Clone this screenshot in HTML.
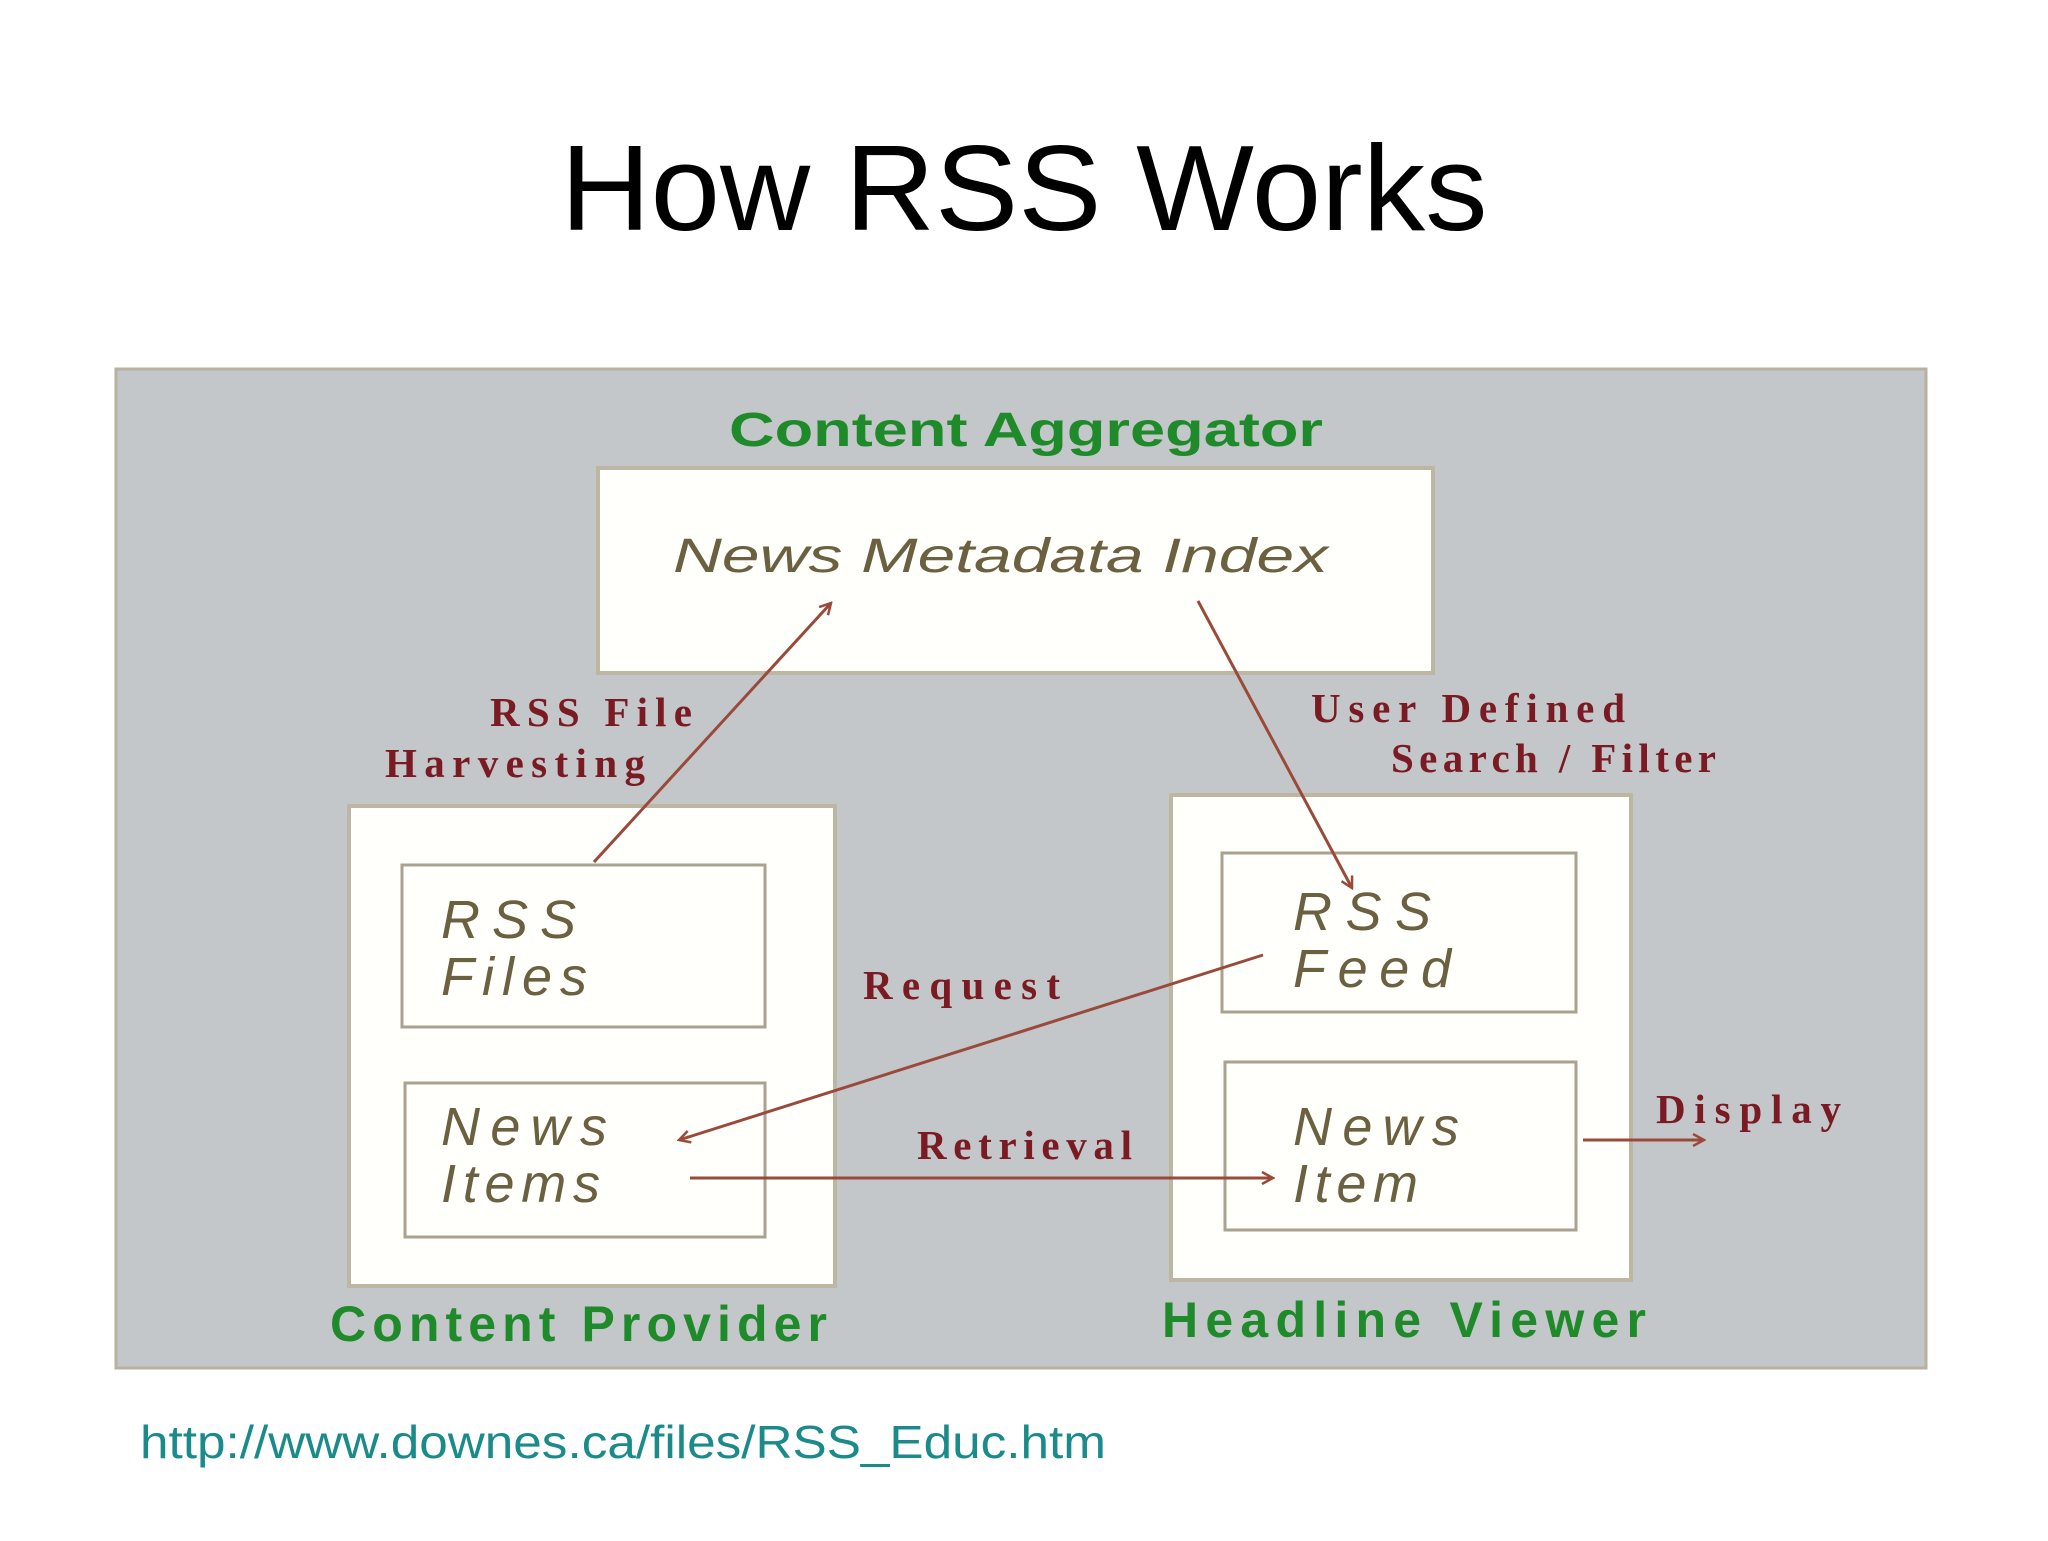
<!DOCTYPE html>
<html><head><meta charset="utf-8"><style>
html,body{margin:0;padding:0;background:#fff;}
body{width:2048px;height:1536px;position:relative;overflow:hidden;}
</style></head><body>
<svg width="2048" height="1536" xmlns="http://www.w3.org/2000/svg">
<defs>
<marker id="ah" markerWidth="14" markerHeight="14" refX="12" refY="7" orient="auto" markerUnits="userSpaceOnUse">
<path d="M1,1 L12,7 L1,13" fill="none" stroke="#9a4a3a" stroke-width="2.5"/>
</marker>
</defs>
<text x="1024" y="230" text-anchor="middle" font-family="Liberation Sans, sans-serif" font-size="122" fill="#000" textLength="927" lengthAdjust="spacingAndGlyphs">How RSS Works</text>
<rect x="116" y="369" width="1810" height="999" fill="#c4c7ca" stroke="#b8b0a0" stroke-width="3"/>
<text x="729" y="446" font-family="Liberation Sans, sans-serif" font-weight="bold" font-size="48" fill="#1f8a2a" textLength="594" lengthAdjust="spacingAndGlyphs">Content  Aggregator</text>
<rect x="598" y="468" width="835" height="205" fill="#fffffb" stroke="#bdb6a2" stroke-width="4"/>
<text x="673" y="572" font-family="Liberation Sans, sans-serif" font-style="italic" font-size="48" fill="#6b6040" textLength="655" lengthAdjust="spacingAndGlyphs">News Metadata Index</text>
<rect x="349" y="806" width="486" height="480" fill="#fffffb" stroke="#bdb6a2" stroke-width="4"/>
<rect x="402" y="865" width="363" height="162" fill="#fffffb" stroke="#a9a290" stroke-width="3"/>
<rect x="405" y="1083" width="360" height="154" fill="#fffffb" stroke="#a9a290" stroke-width="3"/>
<rect x="1171" y="795" width="460" height="485" fill="#fffffb" stroke="#bdb6a2" stroke-width="4"/>
<rect x="1222" y="853" width="354" height="159" fill="#fffffb" stroke="#a9a290" stroke-width="3"/>
<rect x="1225" y="1062" width="351" height="168" fill="#fffffb" stroke="#a9a290" stroke-width="3"/>
<g font-family="Liberation Sans, sans-serif" font-style="italic" font-size="54" fill="#6b6040" lengthAdjust="spacingAndGlyphs">
<text x="441" y="938" textLength="135">RSS</text><text x="441" y="995" textLength="146">Files</text>
<text x="441" y="1145" textLength="166">News</text><text x="441" y="1202" textLength="159">Items</text>
<text x="1293" y="930" textLength="138">RSS</text><text x="1293" y="987" textLength="158">Feed</text>
<text x="1293" y="1145" textLength="166">News</text><text x="1293" y="1202" textLength="125">Item</text>
</g>
<g font-family="Liberation Sans, sans-serif" font-weight="bold" font-size="50" fill="#1f8a2a" lengthAdjust="spacingAndGlyphs">
<text x="330" y="1341" textLength="497">Content  Provider</text>
<text x="1162" y="1337" textLength="484">Headline  Viewer</text>
</g>
<g font-family="Liberation Serif, serif" font-weight="bold" font-size="41" fill="#7a1a22" lengthAdjust="spacingAndGlyphs">
<text x="490" y="726" textLength="202">RSS File</text>
<text x="385" y="777" textLength="260">Harvesting</text>
<text x="1311" y="722" textLength="314">User Defined</text>
<text x="1391" y="772" textLength="325">Search / Filter</text>
<text x="863" y="999" textLength="197">Request</text>
<text x="917" y="1159" textLength="215">Retrieval</text>
<text x="1656" y="1123" textLength="185">Display</text>
</g>
<g stroke="#9a4a3a" stroke-width="3" fill="none">
<line x1="594" y1="862" x2="831" y2="603" marker-end="url(#ah)"/>
<line x1="1198" y1="601" x2="1352" y2="888" marker-end="url(#ah)"/>
<line x1="1263" y1="955" x2="679" y2="1140" marker-end="url(#ah)"/>
<line x1="690" y1="1178" x2="1273" y2="1178" marker-end="url(#ah)"/>
<line x1="1583" y1="1140" x2="1704" y2="1140" marker-end="url(#ah)"/>
</g>
<text x="140" y="1458" font-family="Liberation Sans, sans-serif" font-size="46" fill="#1a8a8a" textLength="966" lengthAdjust="spacingAndGlyphs">http://www.downes.ca/files/RSS_Educ.htm</text>
</svg>
</body></html>
